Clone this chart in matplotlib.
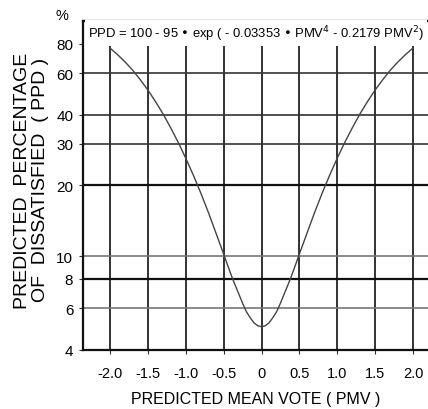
import matplotlib
matplotlib.use("Agg")
import matplotlib.pyplot as plt

# values
pmv = [-2.0, -1.9, -1.8, -1.7, -1.6, -1.5, -1.4, -1.3, -1.2, -1.1, -1.0,
       -0.9, -0.8, -0.7, -0.6, -0.5, -0.45, -0.4, -0.35, -0.3, -0.25, -0.2,
       -0.15, -0.1, -0.05, 0.0,
       0.05, 0.1, 0.15, 0.2, 0.25, 0.3, 0.35, 0.4, 0.45, 0.5,
       0.6, 0.7, 0.8, 0.9, 1.0,
       1.1, 1.2, 1.3, 1.4, 1.5, 1.6, 1.7, 1.8, 1.9, 2.0]
ppd = [76.8, 72.0, 67.0, 61.8, 56.3, 50.9, 45.5, 40.3, 35.2, 30.5, 26.1,
       22.1, 18.5, 15.3, 12.5, 10.2, 9.2, 8.3, 7.55, 6.9, 6.3, 5.8,
       5.47, 5.2, 5.05, 5.0,
       5.05, 5.2, 5.47, 5.8, 6.3, 6.9, 7.55, 8.3, 9.2, 10.2,
       12.5, 15.3, 18.5, 22.1, 26.1,
       30.5, 35.2, 40.3, 45.5, 50.9, 56.3, 61.8, 67.0, 72.0, 76.8]

x_ticks = [-2.0, -1.5, -1.0, -0.5, 0.0, 0.5, 1.0, 1.5, 2.0]
x_labels = ["-2.0", "-1.5", "-1.0", "-0.5", "0", "0.5", "1.0", "1.5", "2.0"]
y_ticks = [4, 6, 8, 10, 20, 30, 40, 60, 80]
y_grid = [6, 8, 10, 20, 30, 40, 60]
y_heavy = [8, 20]
y_light = [6, 10]

plt.rcParams['font.family'] = ['Liberation Sans', 'DejaVu Sans']

fig = plt.figure(figsize=(4.28, 4.10), dpi=100)
ax = fig.add_axes([0.194, 0.145, 0.806, 0.801])

for v in x_ticks:
    ax.axvline(v, color='#222222', lw=1.3, zorder=1)
for v in y_grid:
    if v in y_heavy:
        ax.axhline(v, color='#111111', lw=1.6, zorder=1)
    elif v in y_light:
        ax.axhline(v, color='#777777', lw=1.2, zorder=1)
    else:
        ax.axhline(v, color='#333333', lw=1.2, zorder=1)

ax.plot(pmv, ppd, color='#444444', lw=1.0, zorder=3)

ax.set_yscale('log')
ax.set_xlim(-2.356, 2.198)
ax.set_ylim(4, 100)
ax.set_yticks(y_ticks)
ax.set_yticklabels([str(v) for v in y_ticks], fontsize=11)
ax.minorticks_off()
ax.set_xticks(x_ticks)
ax.set_xticklabels(x_labels, fontsize=10.5)
ax.tick_params(axis='x', length=3, pad=9, color='#333333')
ax.tick_params(axis='y', length=3, pad=4, color='#333333')

ax.spines['right'].set_visible(False)
for s in ['left', 'bottom', 'top']:
    ax.spines[s].set_linewidth(1.6)
    ax.spines[s].set_color('#111111')

ax.text(-2.29, 89, "PPD = 100 - 95 \u2022 exp ( - 0.03353 \u2022 PMV$^4$ - 0.2179 PMV$^2$)",
        fontsize=9.4, va='center', ha='left', zorder=4,
        bbox=dict(facecolor='white', edgecolor='none', pad=2.5))

ax.set_xlabel("PREDICTED MEAN VOTE ( PMV )", fontsize=11.5, labelpad=8)
fig.text(0.052, 0.56, "PREDICTED  PERCENTAGE", rotation=90, fontsize=14,
         ha='center', va='center')
fig.text(0.095, 0.56, "OF  DISSATISFIED  ( PPD )", rotation=90, fontsize=14,
         ha='center', va='center')
fig.text(0.145, 0.96, "%", fontsize=10.5, ha='center', va='center')

fig.savefig("out.png", dpi=100)
